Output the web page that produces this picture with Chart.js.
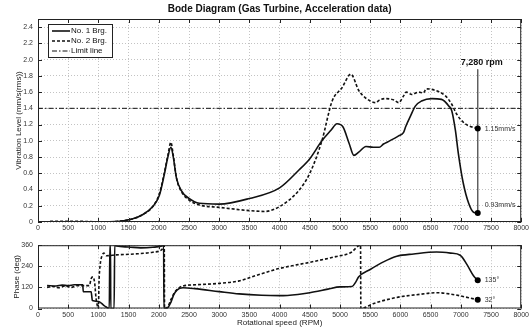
<!DOCTYPE html>
<html>
<head>
<meta charset="utf-8">
<script src="https://cdn.jsdelivr.net/npm/chart.js@4.4.1/dist/chart.umd.min.js"></script>
<style>
  html, body { margin: 0; padding: 0; background: #fff; }
  #wrap { position: relative; width: 531px; height: 329px; }
  #amp { position: absolute; left: 0; top: 0; width: 531px; height: 236px; }
  #phase { position: absolute; left: 0; top: 236px; width: 531px; height: 93px; }
</style>
</head>
<body>
<div id="wrap">
  <canvas id="amp" width="531" height="236"></canvas>
  <canvas id="phase" width="531" height="93"></canvas>
</div>
<script>
// values
const amp1Rpm = [1100, 1350, 1570, 1730, 1900, 2010, 2090, 2150, 2200, 2240, 2290, 2370, 2500, 2670, 3000, 3500, 4000, 4320, 4500, 4700, 4850, 4950, 5050, 5150, 5230, 5310, 5430, 5550, 5650, 5720, 5800, 5900, 5970, 6050, 6090, 6170, 6250, 6350, 6520, 6680, 6800, 6850, 6910, 6960, 7040, 7130, 7210, 7280];
const amp1 = [0, 0.01, 0.04, 0.09, 0.19, 0.33, 0.58, 0.8, 0.92, 0.8, 0.55, 0.39, 0.29, 0.23, 0.22, 0.29, 0.42, 0.64, 0.78, 1.0, 1.13, 1.21, 1.17, 0.97, 0.82, 0.86, 0.93, 0.92, 0.92, 0.96, 0.99, 1.03, 1.06, 1.1, 1.18, 1.31, 1.43, 1.49, 1.52, 1.51, 1.43, 1.37, 1.13, 0.84, 0.48, 0.23, 0.12, 0.11];

const amp2Rpm = [200, 600, 1100, 1350, 1570, 1730, 1900, 2010, 2090, 2150, 2200, 2240, 2290, 2370, 2500, 2670, 3000, 3500, 3750, 4000, 4320, 4500, 4700, 4870, 5030, 5180, 5310, 5420, 5590, 5650, 5750, 5900, 5970, 6050, 6100, 6190, 6300, 6380, 6430, 6580, 6750, 6850, 6930, 7070, 7280];
const amp2 = [0.01, 0.01, 0, 0.01, 0.04, 0.09, 0.19, 0.35, 0.6, 0.82, 0.98, 0.82, 0.55, 0.38, 0.27, 0.21, 0.18, 0.14, 0.13, 0.19, 0.39, 0.6, 1.0, 1.49, 1.65, 1.82, 1.62, 1.53, 1.47, 1.5, 1.52, 1.5, 1.47, 1.55, 1.6, 1.57, 1.6, 1.59, 1.64, 1.62, 1.55, 1.45, 1.33, 1.21, 1.15];

const phase1Rpm = [150, 300, 400, 500, 600, 740, 750, 880, 900, 1000, 1100, 1180, 1190, 1200, 1205, 1260, 1270, 1300, 1500, 1700, 1900, 2050, 2080, 2085, 2150, 2200, 2250, 2300, 2400, 2600, 3000, 3330, 3700, 4000, 4300, 4500, 4800, 5000, 5200, 5260, 5310, 5500, 5720, 5940, 6220, 6600, 6830, 6990, 7100, 7210, 7280];
const phase1 = [130, 128, 133, 130, 135, 135, 95, 95, 45, 40, 15, 0, 360, 360, 0, 0, 360, 355, 350, 345, 348, 355, 360, 0, 5, 35, 80, 105, 118, 113, 96, 83, 75, 73, 80, 90, 110, 123, 125, 150, 180, 222, 265, 297, 310, 321, 315, 303, 251, 186, 160];

const phase2Rpm = [150, 250, 350, 450, 550, 650, 850, 880, 910, 940, 960, 980, 1000, 1010, 1030, 1060, 1090, 1130, 1300, 1600, 1900, 2050, 2090, 2095, 2150, 2200, 2280, 2400, 2620, 3000, 3330, 3610, 3990, 4490, 4930, 5180, 5340, 5345, 5560, 5940, 6330, 6600, 6830, 7280];
const phase2 = [120, 125, 118, 128, 120, 130, 130, 170, 180, 140, 60, 20, 0, 150, 250, 300, 315, 300, 305, 310, 320, 335, 358, 0, 10, 50, 100, 128, 135, 143, 157, 188, 227, 262, 295, 318, 360, 0, 29, 63, 81, 90, 82, 50];

const limitRpm = [0, 8000];
const limitLevel = [1.4, 1.4];
const markerRpm = 7280;
const markerSpan = [1.88, 0.11];

const seriesNames = ['No. 1 Brg.', 'No. 2 Brg.', 'Limit line'];
const ampNotes = ['1.15mm/s', '0.93mm/s'];
const phaseNotes = ['135°', '32°'];

const FONT = 'Arial, "Liberation Sans", sans-serif';
Chart.defaults.font.family = FONT;
Chart.defaults.color = '#222';

const pts = (xs, ys) => xs.map((x, i) => ({ x: x, y: ys[i] }));
const endDot = n => c => (c.dataIndex === n - 1 ? 3 : 0);

function xAxis(height, title) {
  return {
    type: 'linear', min: 0, max: 8000,
    ticks: { stepSize: 500, autoSkip: false, maxRotation: 0, padding: 2, font: { size: 7 }, color: '#333', callback: v => String(v) },
    grid: { color: '#b4b4b4', lineWidth: 0.8, drawTicks: false },
    border: { display: false, dash: [1, 2] },
    title: title ? { display: true, text: title, font: { size: 8 }, color: '#222', padding: { top: 0, bottom: 1 } } : { display: false },
    afterFit: s => { s.height = height; }
  };
}

function yAxis(max, step, title, pad) {
  return {
    min: 0, max: max,
    ticks: { stepSize: step, includeBounds: false, padding: 5, font: { size: 7 }, color: '#333' },
    grid: { color: '#b4b4b4', lineWidth: 0.8, drawTicks: false },
    border: { display: false, dash: [1, 2] },
    title: { display: true, text: title, font: { size: 8 }, color: '#222', padding: { top: pad, bottom: 0 } },
    afterFit: s => { s.width = 38; }
  };
}

// axes box with inward ticks, like the original plot
const framePlugin = {
  id: 'frame',
  afterDatasetsDraw(chart) {
    const { ctx, chartArea: a, scales: { x, y } } = chart;
    ctx.save();
    ctx.strokeStyle = '#222';
    ctx.lineWidth = 1;
    ctx.strokeRect(a.left + 0.5, a.top + 0.5, a.right - a.left - 1, a.bottom - a.top - 1);
    ctx.beginPath();
    x.ticks.forEach(t => {
      const p = Math.round(x.getPixelForValue(t.value)) + 0.5;
      ctx.moveTo(p, a.bottom); ctx.lineTo(p, a.bottom - 4);
      ctx.moveTo(p, a.top); ctx.lineTo(p, a.top + 4);
    });
    y.ticks.forEach(t => {
      const p = Math.round(y.getPixelForValue(t.value)) + 0.5;
      ctx.moveTo(a.left, p); ctx.lineTo(a.left + 4, p);
      ctx.moveTo(a.right, p); ctx.lineTo(a.right - 4, p);
    });
    ctx.stroke();
    ctx.restore();
  }
};

const legendPlugin = {
  id: 'boxLegend',
  afterDraw(chart) {
    const { ctx, chartArea: a } = chart;
    const left = a.left + 10, top = a.top + 5, w = 64, h = 33;
    ctx.save();
    ctx.fillStyle = '#fff';
    ctx.fillRect(left, top, w, h);
    ctx.strokeStyle = '#222';
    ctx.lineWidth = 1;
    ctx.strokeRect(left + 0.5, top + 0.5, w, h);
    ctx.font = '8px ' + FONT;
    ctx.textBaseline = 'middle';
    seriesNames.forEach((name, i) => {
      const ds = chart.data.datasets[i];
      const yy = top + 7 + i * 10;
      ctx.setLineDash(ds.borderDash || []);
      ctx.lineWidth = ds.borderWidth;
      ctx.strokeStyle = ds.borderColor;
      ctx.beginPath(); ctx.moveTo(left + 4, yy); ctx.lineTo(left + 22, yy); ctx.stroke();
      ctx.setLineDash([]);
      ctx.fillStyle = '#111';
      ctx.fillText(name, left + 23, yy);
    });
    ctx.restore();
  }
};

const ampNotesPlugin = {
  id: 'ampNotes',
  afterDatasetsDraw(chart) {
    const { ctx, scales: { x, y } } = chart;
    const px = x.getPixelForValue(markerRpm);
    ctx.save();
    ctx.fillStyle = '#111';
    ctx.textBaseline = 'middle';
    ctx.font = 'bold 9px ' + FONT;
    ctx.textAlign = 'center';
    ctx.fillText('7,280 rpm', px + 4, y.getPixelForValue(markerSpan[0]) - 7);
    ctx.font = '7px ' + FONT;
    ctx.textAlign = 'left';
    ctx.fillStyle = '#333';
    ctx.fillText(ampNotes[0], px + 7, y.getPixelForValue(amp2[amp2.length - 1]));
    ctx.fillText(ampNotes[1], px + 7, y.getPixelForValue(amp1[amp1.length - 1]) - 8);
    ctx.restore();
  }
};

const phaseNotesPlugin = {
  id: 'phaseNotes',
  afterDatasetsDraw(chart) {
    const { ctx, scales: { x, y } } = chart;
    const px = x.getPixelForValue(markerRpm);
    ctx.save();
    ctx.fillStyle = '#333';
    ctx.textBaseline = 'middle';
    ctx.font = '7px ' + FONT;
    ctx.fillText(phaseNotes[0], px + 7, y.getPixelForValue(phase1[phase1.length - 1]));
    ctx.fillText(phaseNotes[1], px + 7, y.getPixelForValue(phase2[phase2.length - 1]));
    ctx.restore();
  }
};

const common = {
  responsive: false,
  animation: false,
  events: [],
  plugins: { legend: { display: false }, tooltip: { enabled: false } }
};

new Chart(document.getElementById('amp'), {
  type: 'line',
  data: {
    datasets: [
      { label: seriesNames[0], data: pts(amp1Rpm, amp1), borderColor: '#111', borderWidth: 1.6, cubicInterpolationMode: 'monotone',
        pointRadius: endDot(amp1.length), pointBackgroundColor: '#000', pointBorderWidth: 0 },
      { label: seriesNames[1], data: pts(amp2Rpm, amp2), borderColor: '#111', borderWidth: 1.6, borderDash: [3, 2], cubicInterpolationMode: 'monotone',
        pointRadius: endDot(amp2.length), pointBackgroundColor: '#000', pointBorderWidth: 0 },
      { label: seriesNames[2], data: pts(limitRpm, limitLevel), borderColor: '#111', borderWidth: 1,
        borderDash: [5, 2, 1.5, 2], pointRadius: 0 },
      { label: 'marker', data: pts([markerRpm, markerRpm], markerSpan), borderColor: '#555', borderWidth: 0.8, pointRadius: 0 }
    ]
  },
  options: {
    ...common,
    layout: { padding: { left: 0, right: 8, top: 0, bottom: 0 } },
    plugins: {
      ...common.plugins,
      title: { display: true, text: 'Bode Diagram (Gas Turbine, Acceleration data)', fullSize: false,
        font: { size: 10, weight: 'bold' }, color: '#111', padding: { top: 3, bottom: 4 } }
    },
    scales: {
      x: xAxis(14, null),
      y: yAxis(2.5, 0.2, 'Vibration Level (mm/s(rms))', 14)
    }
  },
  plugins: [framePlugin, legendPlugin, ampNotesPlugin]
});

new Chart(document.getElementById('phase'), {
  type: 'line',
  data: {
    datasets: [
      { label: seriesNames[0], data: pts(phase1Rpm, phase1), borderColor: '#111', borderWidth: 1.6, cubicInterpolationMode: 'monotone',
        pointRadius: endDot(phase1.length), pointBackgroundColor: '#000', pointBorderWidth: 0 },
      { label: seriesNames[1], data: pts(phase2Rpm, phase2), borderColor: '#111', borderWidth: 1.6, borderDash: [3, 2], cubicInterpolationMode: 'monotone',
        pointRadius: endDot(phase2.length), pointBackgroundColor: '#000', pointBorderWidth: 0 }
    ]
  },
  options: {
    ...common,
    layout: { padding: { left: 0, right: 8, top: 7, bottom: 0 } },
    scales: {
      x: xAxis(20.5, 'Rotational speed (RPM)'),
      y: yAxis(360, 60, 'Phase (deg)', 12)
    }
  },
  plugins: [framePlugin, phaseNotesPlugin]
});
</script>
</body>
</html>
